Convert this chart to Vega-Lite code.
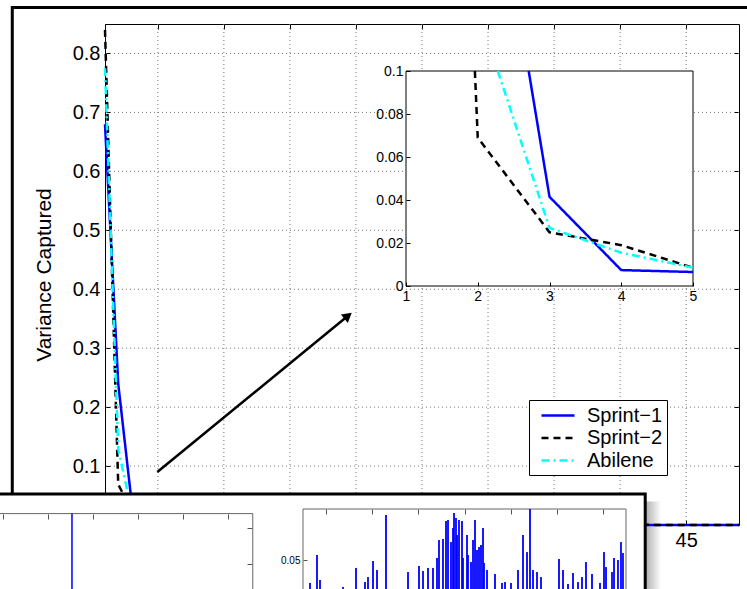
{
"$schema":"https://vega.github.io/schema/vega-lite/v6.json",
"width":634,"height":501,
"autosize":{"type":"none"},
"padding":{"left":105,"top":24,"right":8,"bottom":64},
"background":"white",
"config":{
 "font":"Liberation Sans",
 "view":{"stroke":"#000","strokeWidth":1},
 "axis":{"labelFont":"Liberation Sans","titleFont":"Liberation Sans","labelColor":"#000","titleColor":"#000","tickColor":"#000","domainColor":"#000","titleFontWeight":"normal","labelOverlap":false,"labelBound":false,"labelFlush":false,"grid":false}
},
"datasets":{
 "gridx":[{"v":5},{"v":10},{"v":15},{"v":20},{"v":25},{"v":30},{"v":35},{"v":40},{"v":45}],
 "gridy":[{"v":0.1},{"v":0.2},{"v":0.3},{"v":0.4},{"v":0.5},{"v":0.6},{"v":0.7},{"v":0.8}],
 "pcs":[
  {"pc":1,"Sprint−1":0.68,"Sprint−2":0.84,"Abilene":0.775},
  {"pc":2,"Sprint−1":0.24,"Sprint−2":0.069,"Abilene":0.129},
  {"pc":3,"Sprint−1":0.0415,"Sprint−2":0.025,"Abilene":0.027},
  {"pc":4,"Sprint−1":0.0074,"Sprint−2":0.019,"Abilene":0.0155},
  {"pc":5,"Sprint−1":0.0065,"Sprint−2":0.0085,"Abilene":0.0085},
  {"pc":6,"Sprint−1":0.0045,"Sprint−2":0.0075,"Abilene":0.0065},
  {"pc":7,"Sprint−1":0.0038,"Sprint−2":0.0065,"Abilene":0.0055},
  {"pc":8,"Sprint−1":0.0032,"Sprint−2":0.0058,"Abilene":0.0047},
  {"pc":9,"Sprint−1":0.0028,"Sprint−2":0.0052,"Abilene":0.0041},
  {"pc":10,"Sprint−1":0.0025,"Sprint−2":0.0047,"Abilene":0.0036},
  {"pc":11,"Sprint−1":0.0022,"Sprint−2":0.0043,"Abilene":0.0032},
  {"pc":12,"Sprint−1":0.002,"Sprint−2":0.0039,"Abilene":0.0028},
  {"pc":13,"Sprint−1":0.0018,"Sprint−2":0.0035,"Abilene":0.0025},
  {"pc":14,"Sprint−1":0.0016,"Sprint−2":0.0032,"Abilene":0.0022},
  {"pc":15,"Sprint−1":0.0015,"Sprint−2":0.0029,"Abilene":0.002},
  {"pc":16,"Sprint−1":0.0014,"Sprint−2":0.0026,"Abilene":0.0018},
  {"pc":17,"Sprint−1":0.0013,"Sprint−2":0.0024,"Abilene":0.0016},
  {"pc":18,"Sprint−1":0.0012,"Sprint−2":0.0022,"Abilene":0.0014},
  {"pc":19,"Sprint−1":0.0011,"Sprint−2":0.002,"Abilene":0.0013},
  {"pc":20,"Sprint−1":0.001,"Sprint−2":0.0018,"Abilene":0.0012},
  {"pc":21,"Sprint−1":0.0009,"Sprint−2":0.0016,"Abilene":0.0011},
  {"pc":22,"Sprint−1":0.00085,"Sprint−2":0.0015,"Abilene":0.001},
  {"pc":23,"Sprint−1":0.0008,"Sprint−2":0.0014,"Abilene":0.0009},
  {"pc":24,"Sprint−1":0.00075,"Sprint−2":0.0013,"Abilene":0.0008},
  {"pc":25,"Sprint−1":0.0007,"Sprint−2":0.0012,"Abilene":0.0007},
  {"pc":26,"Sprint−1":0.00065,"Sprint−2":0.0011,"Abilene":0.0006},
  {"pc":27,"Sprint−1":0.0006,"Sprint−2":0.001,"Abilene":0.00055},
  {"pc":28,"Sprint−1":0.00055,"Sprint−2":0.0009,"Abilene":0.0005},
  {"pc":29,"Sprint−1":0.0005,"Sprint−2":0.00085,"Abilene":0.00045},
  {"pc":30,"Sprint−1":0.00045,"Sprint−2":0.0008,"Abilene":0.0004},
  {"pc":31,"Sprint−1":0.0004,"Sprint−2":0.00075,"Abilene":0.00035},
  {"pc":32,"Sprint−1":0.00038,"Sprint−2":0.0007,"Abilene":0.0003},
  {"pc":33,"Sprint−1":0.00035,"Sprint−2":0.00065,"Abilene":0.00025},
  {"pc":34,"Sprint−1":0.00032,"Sprint−2":0.0006,"Abilene":0.0002},
  {"pc":35,"Sprint−1":0.0003,"Sprint−2":0.00055,"Abilene":0.00017},
  {"pc":36,"Sprint−1":0.00028,"Sprint−2":0.0005,"Abilene":0.00014},
  {"pc":37,"Sprint−1":0.00025,"Sprint−2":0.00045,"Abilene":0.00011},
  {"pc":38,"Sprint−1":0.00022,"Sprint−2":0.0004,"Abilene":0.00008},
  {"pc":39,"Sprint−1":0.0002,"Sprint−2":0.00035,"Abilene":0.00006},
  {"pc":40,"Sprint−1":0.00018,"Sprint−2":0.0003,"Abilene":0.00004},
  {"pc":41,"Sprint−1":0.00016,"Sprint−2":0.00026,"Abilene":0.00002},
  {"pc":42,"Sprint−1":0.00014,"Sprint−2":0.00022},
  {"pc":43,"Sprint−1":0.00012,"Sprint−2":0.00018},
  {"pc":44,"Sprint−1":0.0001,"Sprint−2":0.00015},
  {"pc":45,"Sprint−1":0.00008,"Sprint−2":0.00012},
  {"pc":46,"Sprint−1":0.00006,"Sprint−2":0.0001},
  {"pc":47,"Sprint−1":0.00004,"Sprint−2":0.00008},
  {"pc":48,"Sprint−1":0.00003,"Sprint−2":0.00005},
  {"pc":49,"Sprint−1":0.00002,"Sprint−2":0.00003}
 ],
 "inset":[
  {"series":"Sprint−1","pc":2.71,"value":0.1},
  {"series":"Sprint−1","pc":3,"value":0.0415},
  {"series":"Sprint−1","pc":4,"value":0.0074},
  {"series":"Sprint−1","pc":5,"value":0.0065},
  {"series":"Sprint−2","pc":1.96,"value":0.1},
  {"series":"Sprint−2","pc":2,"value":0.069},
  {"series":"Sprint−2","pc":3,"value":0.025},
  {"series":"Sprint−2","pc":4,"value":0.019},
  {"series":"Sprint−2","pc":5,"value":0.0085},
  {"series":"Abilene","pc":2.28,"value":0.1},
  {"series":"Abilene","pc":3,"value":0.027},
  {"series":"Abilene","pc":4,"value":0.0155},
  {"series":"Abilene","pc":5,"value":0.0085}
 ],
 "spike":[{"day":2.533,"v":2.4}],
 "traffic":[
  {"day":0.652,"v":0.0275},{"day":0.803,"v":0.0549},{"day":0.868,"v":0.0304},{"day":1.367,"v":0.0235},
  {"day":1.649,"v":0.0422},{"day":1.844,"v":0.0284},{"day":1.909,"v":0.0333},{"day":2.017,"v":0.049},
  {"day":2.104,"v":0.0402},{"day":2.299,"v":0.0941},{"day":2.776,"v":0.0382},{"day":3.014,"v":0.0441},
  {"day":3.101,"v":0.0392},{"day":3.209,"v":0.0422},{"day":3.317,"v":0.0422},{"day":3.404,"v":0.052},
  {"day":3.447,"v":0.0696},{"day":3.534,"v":0.0706},{"day":3.599,"v":0.0882},{"day":3.642,"v":0.0892},
  {"day":3.707,"v":0.0676},{"day":3.751,"v":0.0814},{"day":3.772,"v":0.0961},{"day":3.816,"v":0.0912},
  {"day":3.837,"v":0.0745},{"day":3.881,"v":0.0892},{"day":3.946,"v":0.0882},{"day":3.968,"v":0.052},
  {"day":4.054,"v":0.0745},{"day":4.076,"v":0.0549},{"day":4.141,"v":0.048},{"day":4.184,"v":0.0696},
  {"day":4.228,"v":0.0892},{"day":4.271,"v":0.0598},{"day":4.314,"v":0.0627},{"day":4.358,"v":0.0647},
  {"day":4.401,"v":0.0814},{"day":4.423,"v":0.0471},{"day":4.488,"v":0.0402},{"day":4.661,"v":0.0363},
  {"day":4.813,"v":0.0275},{"day":4.878,"v":0.0284},{"day":5.008,"v":0.0275},{"day":5.159,"v":0.0402},
  {"day":5.268,"v":0.0745},{"day":5.354,"v":0.0578},{"day":5.42,"v":0.1},{"day":5.485,"v":0.0402},
  {"day":5.571,"v":0.0382},{"day":5.658,"v":0.0333},{"day":6.048,"v":0.051},{"day":6.135,"v":0.0402},
  {"day":6.243,"v":0.0265},{"day":6.351,"v":0.0373},{"day":6.46,"v":0.0284},{"day":6.547,"v":0.0333},
  {"day":6.633,"v":0.048},{"day":6.763,"v":0.0363},{"day":6.936,"v":0.0275},{"day":7.023,"v":0.0578},
  {"day":7.066,"v":0.0431},{"day":7.196,"v":0.0382},{"day":7.24,"v":0.052},{"day":7.326,"v":0.05},
  {"day":7.391,"v":0.0676},{"day":7.434,"v":0.0569}
 ]
},
"resolve":{"scale":{"x":"independent","y":"independent","color":"independent","strokeDash":"independent"}},
"layer":[
 {"layer":[
  {"data":{"name":"gridx"},"mark":{"type":"rule","color":"#777","strokeWidth":1,"strokeDash":[1,3]},
   "encoding":{"x":{"field":"v","type":"quantitative","scale":{"domain":[1,49],"nice":false,"zero":false},"axis":{"orient":"bottom","values":[5,10,15,20,25,30,35,40,45],"grid":false,"tickSize":-5,"labelFontSize":20,"labelPadding":10,"title":null,"zindex":0}}}},
  {"data":{"name":"gridy"},"mark":{"type":"rule","color":"#777","strokeWidth":1,"strokeDash":[1,3]},
   "encoding":{"y":{"field":"v","type":"quantitative","scale":{"domain":[0,0.85],"nice":false,"zero":false},"axis":{"orient":"left","values":[0,0.1,0.2,0.3,0.4,0.5,0.6,0.7,0.8],"format":"~g","grid":false,"tickSize":-5,"labelFontSize":20,"labelPadding":10,"title":"Variance Captured","titleFontSize":21,"titlePadding":18,"zindex":0}}}},
  {"data":{"values":[{}]},"mark":{"type":"rect","filled":false,"stroke":"#000","strokeWidth":3},
   "encoding":{
    "x":{"datum":-6.02,"type":"quantitative"},
    "x2":{"datum":49.9},
    "y":{"datum":0.878,"type":"quantitative"},
    "y2":{"datum":-0.13}}},
  {"data":{"values":[{}]},"mark":{"type":"rect","opacity":0.6,"fill":{"gradient":"linear","x1":0,"y1":0,"x2":1,"y2":0,"stops":[{"offset":0,"color":"#777"},{"offset":1,"color":"#fff"}]}},
   "encoding":{"x":{"datum":41.9,"type":"quantitative"},"x2":{"datum":43.1},"y":{"datum":0.04,"type":"quantitative"},"y2":{"datum":-0.13}}},
  {"data":{"name":"pcs"},"transform":[{"fold":["Sprint−1","Sprint−2","Abilene"],"as":["series","value"]}],
   "mark":{"type":"line","strokeWidth":2.5},
   "encoding":{
    "x":{"field":"pc","type":"quantitative"},
    "y":{"field":"value","type":"quantitative"},
    "color":{"field":"series","type":"nominal","scale":{"domain":["Sprint−1","Sprint−2","Abilene"],"range":["#0000ff","#000000","#00ffff"]},"legend":{"orient":"none","legendX":424,"legendY":376,"title":null,"fillColor":"#fff","strokeColor":"#000","padding":4,"labelFontSize":20,"labelColor":"#000","symbolType":"M-0.3,0H3","symbolSize":400,"symbolStrokeWidth":2.5,"labelOffset":31,"rowPadding":0.5,"zindex":1}},
    "strokeDash":{"field":"series","type":"nominal","scale":{"domain":["Sprint−1","Sprint−2","Abilene"],"range":[[1,0],[7,5],[8,4,2,4]]},"legend":{"orient":"none","legendX":424,"legendY":376,"title":null,"fillColor":"#fff","strokeColor":"#000","padding":4,"labelFontSize":20,"labelColor":"#000","symbolType":"M-0.3,0H3","symbolSize":400,"symbolStrokeWidth":2.5,"labelOffset":31,"rowPadding":0.5,"zindex":1}}}},
  {"data":{"values":[{}]},"mark":{"type":"rule","color":"#000","strokeWidth":2.5},
   "encoding":{"x":{"datum":4.96,"type":"quantitative"},"y":{"datum":0.0898,"type":"quantitative"},"x2":{"datum":19.4},"y2":{"datum":0.355}}},
  {"data":{"values":[{}]},"mark":{"type":"point","shape":"triangle-right","filled":true,"color":"#000","size":120,"angle":-39.4,"opacity":1},
   "encoding":{"x":{"datum":19.4,"type":"quantitative"},"y":{"datum":0.355,"type":"quantitative"}}},
  {"data":{"values":[{}]},"mark":{"type":"rect","fill":"#fff","stroke":"#000","strokeWidth":3},
   "encoding":{"x":{"datum":-7.3,"type":"quantitative"},"x2":{"datum":41.9},"y":{"datum":0.0525,"type":"quantitative"},"y2":{"datum":-0.13}}}
 ]},
 {"layer":[
  {"data":{"values":[{}]},"mark":{"type":"rect","fill":"#fff","stroke":"#000","strokeWidth":1},
   "encoding":{
    "x":{"datum":1,"type":"quantitative","scale":{"domain":[1,5],"range":[301,588],"nice":false,"zero":false},"axis":{"orient":"bottom","offset":-239,"values":[1,2,3,4,5],"format":"~g","grid":false,"domain":false,"tickSize":-4,"labelFontSize":14,"labelPadding":7,"title":null,"zindex":1}},
    "x2":{"datum":5},
    "y":{"datum":0,"type":"quantitative","scale":{"domain":[0,0.1],"range":[262,47],"nice":false,"zero":false},"axis":{"orient":"left","offset":-301,"values":[0,0.02,0.04,0.06,0.08,0.1],"format":"~g","grid":false,"domain":false,"tickSize":-4,"labelFontSize":14,"labelPadding":7,"title":null,"zindex":1}},
    "y2":{"datum":0.1}}},
  {"data":{"name":"inset"},"mark":{"type":"line","strokeWidth":2.5},
   "encoding":{
    "x":{"field":"pc","type":"quantitative"},
    "y":{"field":"value","type":"quantitative"},
    "color":{"field":"series","type":"nominal","scale":{"domain":["Sprint−1","Sprint−2","Abilene"],"range":["#0000ff","#000000","#00ffff"]},"legend":null},
    "strokeDash":{"field":"series","type":"nominal","scale":{"domain":["Sprint−1","Sprint−2","Abilene"],"range":[[1,0],[7,5],[8,4,2,4]]},"legend":null}}}
 ]},
 {"data":{"values":[{}]},"mark":{"type":"point","opacity":0},
  "encoding":{
   "x":{"datum":1,"type":"quantitative","scale":{"domain":[1,49],"nice":false,"zero":false},"axis":{"orient":"top","values":[5,10,15,20,25,30,35,40,45],"tickSize":-5,"labels":false,"domain":false,"grid":false,"title":null}},
   "y":{"datum":0,"type":"quantitative","scale":{"domain":[0,0.85],"nice":false,"zero":false},"axis":{"orient":"right","values":[0.1,0.2,0.3,0.4,0.5,0.6,0.7,0.8],"tickSize":-5,"labels":false,"domain":false,"grid":false,"title":null}}}},
 {"layer":[
  {"data":{"values":[{}]},"mark":{"type":"rect","filled":false,"stroke":"#666","strokeWidth":1},
   "encoding":{
    "x":{"datum":0.5,"type":"quantitative","scale":{"domain":[0.5,6.55],"range":[-124.5,147.75],"nice":false,"zero":false},"axis":{"orient":"top","offset":-490,"values":[1,2,3,4,5,6],"tickSize":-5,"tickColor":"#555","labels":false,"domain":false,"grid":false,"title":null,"zindex":1}},
    "x2":{"datum":6.55},
    "y":{"datum":0,"type":"quantitative","scale":{"domain":[0,2.4],"range":[576,489.6],"nice":false,"zero":false},"axis":{"orient":"right","offset":-487,"values":[1,2],"tickSize":-5,"tickColor":"#555","labels":false,"domain":false,"grid":false,"title":null,"zindex":1}},
    "y2":{"datum":2.4}}},
  {"data":{"name":"spike"},"mark":{"type":"rule","color":"#0000ff","strokeWidth":1.5},
   "encoding":{"x":{"field":"day","type":"quantitative"},"y":{"field":"v","type":"quantitative"},"y2":{"datum":0}}}
 ]},
 {"layer":[
  {"data":{"values":[{}]},"mark":{"type":"rect","filled":false,"stroke":"#666","strokeWidth":1},
   "encoding":{
    "x":{"datum":0.5,"type":"quantitative","scale":{"domain":[0.5,7.5],"range":[198,521],"nice":false,"zero":false},"axis":{"orient":"top","offset":-485,"values":[1,2,3,4,5,6,7],"tickSize":-5,"tickColor":"#555","labels":false,"domain":false,"grid":false,"title":null,"zindex":1}},
    "x2":{"datum":7.5},
    "y":{"datum":0,"type":"quantitative","scale":{"domain":[0,0.1],"range":[587,485],"nice":false,"zero":false},"axis":{"orient":"left","offset":-198,"values":[0.05],"format":"~g","tickSize":-4,"tickColor":"#555","labelFontSize":10,"labelPadding":7,"domain":false,"grid":false,"title":null,"zindex":1}},
    "y2":{"datum":0.1}}},
  {"data":{"name":"traffic"},"mark":{"type":"rule","color":"#0000ff","strokeWidth":2,"opacity":0.9},
   "encoding":{"x":{"field":"day","type":"quantitative"},"y":{"field":"v","type":"quantitative"},"y2":{"datum":0}}}
 ]}
]
}
